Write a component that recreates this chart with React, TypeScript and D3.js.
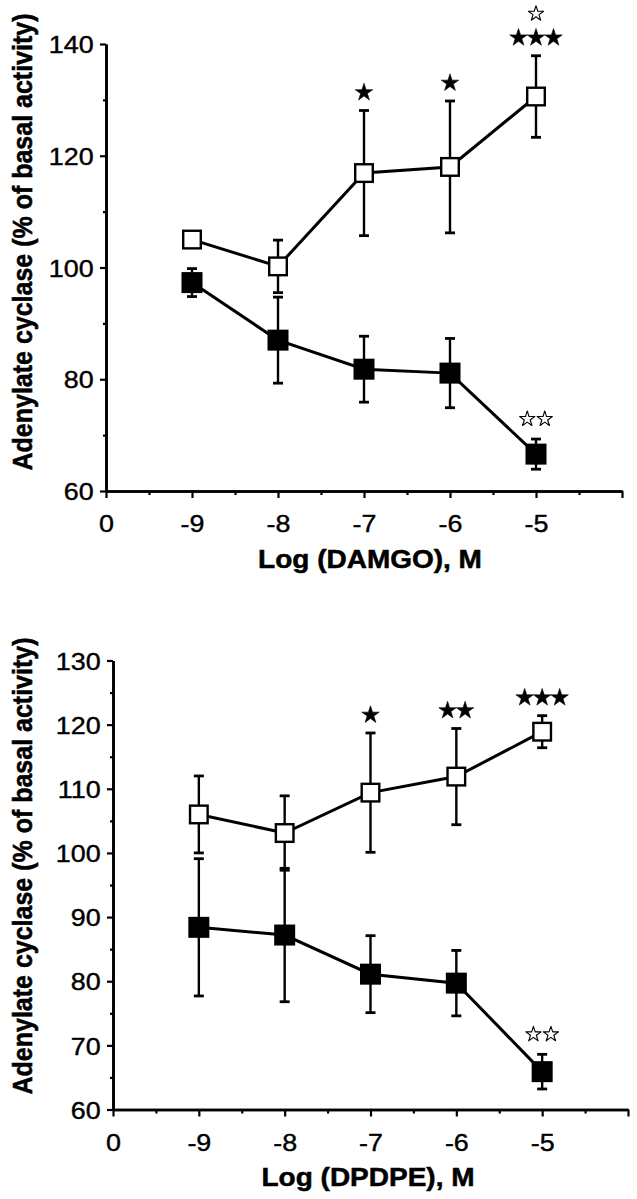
import React, { useRef, useEffect } from "react";
import * as d3 from "d3";

// x axis: "0" at the origin, then the log doses, then an unlabeled end tick
const xTickLabels = ["0", "-9", "-8", "-7", "-6", "-5", ""];
const doses = ["-9", "-8", "-7", "-6", "-5"];

// DAMGO (top panel)
const damgoYTicks = [60, 80, 100, 120, 140];
const damgoYMinor = [70, 90, 110, 130];
const damgoOpen = [105, 100.2, 116.9, 118, 130.6];
const damgoOpenErr = [1, 4.7, 11.2, 11.8, 7.3];
const damgoFilled = [97.3, 87, 81.8, 81.1, 66.6];
const damgoFilledErr = [2.5, 7.7, 5.9, 6.2, 2.7];
const damgoOpenStars = [0, 0, 1, 1, 3];
const damgoOpenHollowStars = [0, 0, 0, 0, 1];
const damgoFilledHollowStars = [0, 0, 0, 0, 2];

// DPDPE (bottom panel)
const dpdpeYTicks = [60, 70, 80, 90, 100, 110, 120, 130];
const dpdpeYMinor = [65, 75, 85, 95, 105, 115, 125];
const dpdpeOpen = [106, 103.1, 109.4, 111.9, 118.9];
const dpdpeOpenErr = [6, 5.8, 9.3, 7.5, 2.5];
const dpdpeFilled = [88.4, 87.2, 81.1, 79.7, 65.9];
const dpdpeFilledErr = [10.7, 10.4, 6, 5.1, 2.7];
const dpdpeOpenStars = [0, 0, 1, 2, 3];
const dpdpeOpenHollowStars = [0, 0, 0, 0, 0];
const dpdpeFilledHollowStars = [0, 0, 0, 0, 2];

const FONT = "'Liberation Sans', Arial, Helvetica, sans-serif";
const SX = 1.12; // the scan is a bit wider than tall

const panels: any[] = [
  {
    left: 106, right: 622, top: 44, bottom: 491,
    yDomain: [60, 140], yTicks: damgoYTicks, yMinor: damgoYMinor,
    open: damgoOpen, openErr: damgoOpenErr,
    filled: damgoFilled, filledErr: damgoFilledErr,
    openStars: damgoOpenStars, openHollow: damgoOpenHollowStars,
    filledHollow: damgoFilledHollowStars,
    xTitle: "Log (DAMGO), M", xTitleX: 370, xTitleY: 568, yTitleY: 242,
  },
  {
    left: 113, right: 628, top: 660.5, bottom: 1109.5,
    yDomain: [60, 130], yTicks: dpdpeYTicks, yMinor: dpdpeYMinor,
    open: dpdpeOpen, openErr: dpdpeOpenErr,
    filled: dpdpeFilled, filledErr: dpdpeFilledErr,
    openStars: dpdpeOpenStars, openHollow: dpdpeOpenHollowStars,
    filledHollow: dpdpeFilledHollowStars,
    xTitle: "Log (DPDPE), M", xTitleX: 368, xTitleY: 1186, yTitleY: 866,
  },
];

const drawPanel = (svg: any, p: any) => {
  const x = d3.scaleLinear().domain([0, xTickLabels.length - 1]).range([p.left, p.right]);
  const y = d3.scaleLinear().domain(p.yDomain).range([p.bottom, p.top]);
  const xAt = (d: string) => x(xTickLabels.indexOf(d));

  const g = svg.append("g");

  // axes
  const yAxis = g.append("g")
    .attr("transform", `translate(${p.left},0)`)
    .call(d3.axisLeft(y).tickValues(p.yTicks).tickSize(6).tickSizeOuter(0).tickPadding(5));
  g.append("g")
    .attr("transform", `translate(${p.left},0)`)
    .call(d3.axisLeft(y).tickValues(p.yMinor).tickSize(3).tickSizeOuter(0).tickFormat(() => ""));
  const xAxis = g.append("g")
    .attr("transform", `translate(0,${p.bottom})`)
    .call(d3.axisBottom(x).tickValues(d3.range(0, xTickLabels.length)).tickSize(7)
      .tickSizeOuter(0).tickPadding(17).tickFormat((i: any) => xTickLabels[i]));
  g.append("g")
    .attr("transform", `translate(0,${p.bottom})`)
    .call(d3.axisBottom(x).tickValues(d3.range(0.5, xTickLabels.length - 1, 1)).tickSize(4)
      .tickSizeOuter(0).tickFormat(() => ""));

  g.selectAll(".domain").attr("stroke", "#000").attr("stroke-width", 2.6);
  g.selectAll(".tick line").attr("stroke", "#000").attr("stroke-width", 2.2);
  g.selectAll(".tick text")
    .attr("font-size", 24).attr("font-family", FONT).attr("fill", "#000")
    .attr("stroke", "#000").attr("stroke-width", 0.4)
    .attr("transform", `scale(${SX},1)`);
  yAxis.selectAll(".tick text").attr("dy", "0.36em");
  xAxis.selectAll(".tick text").attr("dy", "0.71em");

  // titles
  const titleStyle = (t: any) =>
    t.attr("text-anchor", "middle")
      .attr("font-size", 25).attr("font-weight", "bold").attr("font-family", FONT)
      .attr("stroke", "#000").attr("stroke-width", 0.5);
  g.append("text")
    .attr("transform", `translate(${p.xTitleX},${p.xTitleY}) scale(${SX},1)`)
    .call(titleStyle)
    .text(p.xTitle);
  g.append("text")
    .attr("transform", `translate(32,${p.yTitleY}) scale(${SX},1) rotate(-90)`)
    .call(titleStyle)
    .text("Adenylate cyclase (% of basal activity)");

  const series = [
    { values: p.filled, err: p.filledErr, fill: "#000", size: 21 },
    { values: p.open, err: p.openErr, fill: "#fff", size: 20 },
  ];

  series.forEach((s) => {
    const line = d3.line<number>().x((_, i) => xAt(doses[i])).y((v) => y(v));
    g.append("path")
      .attr("d", line(s.values))
      .attr("fill", "none").attr("stroke", "#000").attr("stroke-width", 3);

    const bars = g.append("g").attr("stroke", "#000").attr("stroke-width", 2.4);
    s.values.forEach((v: number, i: number) => {
      const cx = xAt(doses[i]);
      const y1 = y(v + s.err[i]);
      const y2 = y(v - s.err[i]);
      bars.append("line").attr("x1", cx).attr("x2", cx).attr("y1", y1).attr("y2", y2);
      bars.append("line").attr("x1", cx - 5).attr("x2", cx + 5).attr("y1", y1).attr("y2", y1).attr("stroke-width", 2.8);
      bars.append("line").attr("x1", cx - 5).attr("x2", cx + 5).attr("y1", y2).attr("y2", y2).attr("stroke-width", 2.8);
    });
  });

  series.forEach((s) => {
    s.values.forEach((v: number, i: number) => {
      const cx = xAt(doses[i]);
      const half = s.fill === "#000" ? s.size / 2 : s.size / 2 - 1.2;
      g.append("rect")
        .attr("x", cx - half).attr("y", y(v) - half)
        .attr("width", half * 2).attr("height", half * 2)
        .attr("fill", s.fill).attr("stroke", "#000")
        .attr("stroke-width", s.fill === "#000" ? 0 : 2.4);
    });
  });

  // significance stars
  const starRow = (cx: number, cy: number, n: number, hollow: boolean) => {
    const sym = d3.symbol().type(d3.symbolStar).size(hollow ? 72 : 95);
    for (let k = 0; k < n; k++) {
      g.append("path")
        .attr("d", sym())
        .attr("transform", `translate(${cx + (k - (n - 1) / 2) * 17.5},${cy + 1})`)
        .attr("fill", hollow ? "#fff" : "#000")
        .attr("stroke", "#000").attr("stroke-width", hollow ? 1.1 : 0.6)
        .attr("stroke-linejoin", "round");
    }
  };
  doses.forEach((d, i) => {
    const cx = xAt(d);
    const topOpen = y(p.open[i] + p.openErr[i]) - 19;
    starRow(cx, topOpen, p.openStars[i], false);
    starRow(cx, topOpen - 24, p.openHollow[i], true);
    const topFilled = y(p.filled[i] + p.filledErr[i]) - 21;
    starRow(cx, topFilled, p.filledHollow[i], true);
  });
};

const App = () => {
  const ref = useRef<SVGSVGElement>(null);

  useEffect(() => {
    const svg = d3.select(ref.current);
    svg.selectAll("*").remove();
    panels.forEach((p) => drawPanel(svg, p));
  }, []);

  return (
    <svg
      ref={ref}
      width={637}
      height={1199}
      style={{ position: "absolute", left: 0, top: 0, background: "#fff" }}
    />
  );
};

export default App;
